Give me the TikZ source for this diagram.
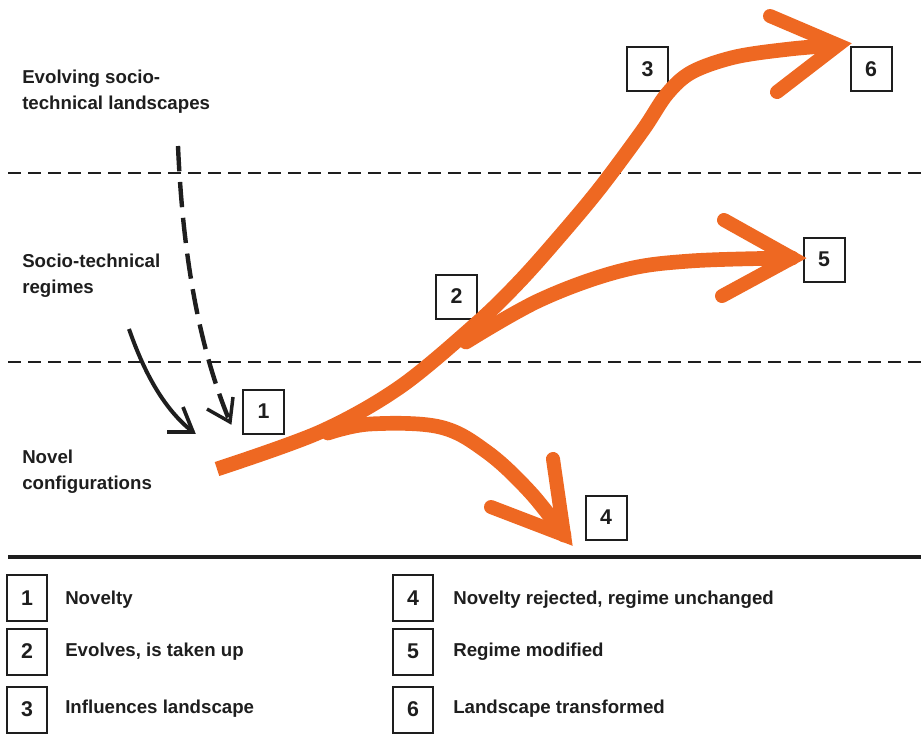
\documentclass[tikz,border=0pt]{standalone}
\usepackage{fontspec}
\setmainfont{Liberation Sans}
\definecolor{orng}{RGB}{238,104,34}
\definecolor{ink}{RGB}{30,30,30}
\begin{document}
\begin{tikzpicture}[x=0.75pt,y=-0.75pt,
  lbl/.style={font=\fontsize{14}{19.5}\selectfont\bfseries, text=ink, align=left, inner sep=0pt},
  numbox/.style={draw=ink, line width=1.5pt, minimum width=30.75pt, minimum height=33pt, inner sep=0pt, font=\fontsize{16}{18}\selectfont\bfseries, text=ink},
  legbox/.style={numbox, minimum width=30pt, minimum height=34.5pt},
  layer/.style={ink, line width=1.5pt, dash pattern=on 9.75pt off 5.25pt},
  orange/.style={orng, line width=11pt},
  barb/.style={orng, line width=10.5pt, line cap=round, line join=miter}
]
\useasboundingbox (0,0) rectangle (923,733);

% layer separators
\coordinate (L1a) at (8,173); \coordinate (L1b) at (923,173);
\coordinate (L2a) at (8,362); \coordinate (L2b) at (923,362);
\coordinate (Ba) at (8,557); \coordinate (Bb) at (921,557);
\draw[layer] (L1a) -- (L1b);
\draw[layer] (L2a) -- (L2b);
\draw[ink, line width=3pt] (Ba) -- (Bb);

% layer labels
\node[lbl, anchor=north west] (land) at (22,70) {Evolving socio-\\technical landscapes};
\node[lbl, anchor=north west] (reg) at (22,254) {Socio-technical\\regimes};
\node[lbl, anchor=north west] (nov) at (22,450) {Novel\\configurations};

% number boxes
\node[numbox] (b1) at (263.5,411.5) {1};
\node[numbox] (b2) at (456.5,296.5) {2};
\node[numbox] (b3) at (647.5,69) {3};
\node[numbox] (b4) at (606,517.5) {4};
\node[numbox] (b5) at (824,259.5) {5};
\node[numbox] (b6) at (871,69) {6};

% black arrows
\coordinate (s1) at (129,329);
\coordinate (t1) at (193,432);
\draw[ink, line width=3pt] (s1) .. controls (145,375) and (165,410) .. (t1);
\draw[ink, line width=2.8pt, line join=miter] (167,432) -- (t1) -- (183,407);
\coordinate (s2) at (178,146);
\coordinate (t2) at (230,422);
\draw[ink, line width=3.3pt, dash pattern=on 19pt off 8pt] (s2) .. controls (183,260) and (200,350) .. (t2);
\draw[ink, line width=2.6pt, line join=miter] (207,409) -- (t2) -- (233,397);

% orange trunk to 6
\coordinate (o0) at (217,469);
\coordinate (t6) at (838,45);
\draw[orange, line join=round] plot[smooth, tension=0.55] coordinates {(o0) (320,432) (400,387) (477,323) (520,281) (560,236) (600,188) (643,130) (667,94) (692,72) (735,57) (790,49) (t6)};
\draw[barb] (770,16) -- (t6) -- (777,92);

% branch to 5
\coordinate (o5) at (466,342);
\coordinate (t5) at (792,258);
\draw[orange, line cap=round] plot[smooth, tension=0.6] coordinates {(o5) (540,300) (620,271) (690,261) (t5)};
\draw[barb] (724,220) -- (t5) -- (722,296);

% branch to 4
\coordinate (o4) at (328,433);
\coordinate (t4) at (564,535);
\draw[orange, line cap=round] plot[smooth, tension=0.6] coordinates {(o4) (370,424) (440,427) (487,452) (530,492) (t4)};
\draw[barb] (553,459) -- (t4) -- (491,507);

% legend
\node[legbox] (k1) at (27,598) {1};
\node[legbox] (k2) at (27,651.5) {2};
\node[legbox] (k3) at (27,709.5) {3};
\node[legbox] (k4) at (413,598) {4};
\node[legbox] (k5) at (413,651.5) {5};
\node[legbox] (k6) at (413,709.5) {6};
\node[lbl, anchor=west] (d1) at (65,600) {Novelty};
\node[lbl, anchor=west] (d2) at (65,652) {Evolves, is taken up};
\node[lbl, anchor=west] (d3) at (65,709) {Influences landscape};
\node[lbl, anchor=west] (d4) at (453,600) {Novelty rejected, regime unchanged};
\node[lbl, anchor=west] (d5) at (453,652) {Regime modified};
\node[lbl, anchor=west] (d6) at (453,709) {Landscape transformed};
\end{tikzpicture}
\end{document}
